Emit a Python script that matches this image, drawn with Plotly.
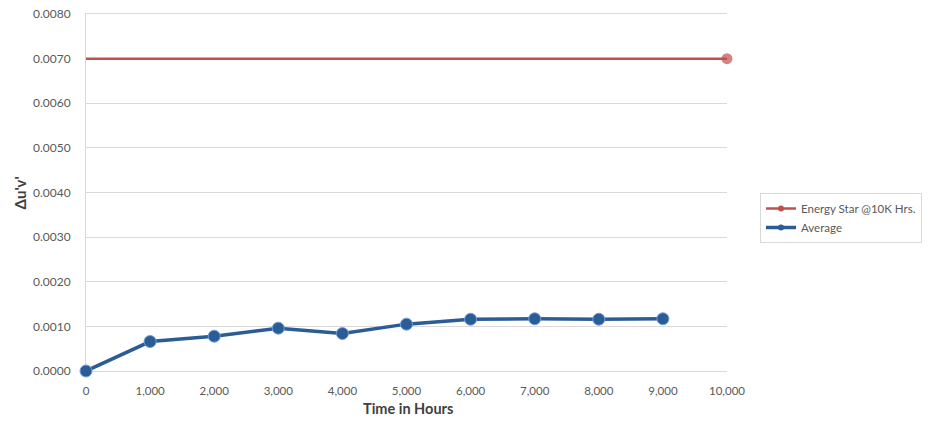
import plotly.graph_objects as go

hours = [0, 1000, 2000, 3000, 4000, 5000, 6000, 7000, 8000, 9000]
average = [0.0, 0.00066, 0.00078, 0.00096, 0.00084, 0.00105, 0.00116, 0.00117, 0.00116, 0.00117]
star_hours = [0, 10000]
star_values = [0.0070, 0.0070]
star_marker_sizes = [0, 11]
y_ticks = [0.0, 0.001, 0.002, 0.003, 0.004, 0.005, 0.006, 0.007, 0.008]

font = "Lato, 'Open Sans', sans-serif"
RED = "#C0504D"
BLUE = "#2B5C96"
GRID = "#D9D9D9"

fig = go.Figure()
fig.add_trace(go.Scatter(
    x=star_hours, y=star_values, name="Energy Star @10K Hrs.",
    mode="lines+markers", cliponaxis=False, showlegend=False,
    line=dict(color=RED, width=2.5),
    marker=dict(color=RED, size=star_marker_sizes, line=dict(width=0)),
))
fig.add_trace(go.Scatter(
    x=hours, y=average, name="Average",
    mode="lines+markers", cliponaxis=False, showlegend=False,
    line=dict(color=BLUE, width=3.5),
    marker=dict(color=BLUE, size=12, line=dict(color="#6F9FD8", width=1)),
))
# legend-only entries with small markers like the reference legend
fig.add_trace(go.Scatter(
    x=[None], y=[None], name="Energy Star @10K Hrs.", mode="lines+markers",
    line=dict(color=RED, width=2.5), marker=dict(color=RED, size=6),
))
fig.add_trace(go.Scatter(
    x=[None], y=[None], name="Average", mode="lines+markers",
    line=dict(color=BLUE, width=3.5), marker=dict(color=BLUE, size=6),
))
# empty trace so the top axis (used as the 0.0080 gridline) is drawn
fig.add_trace(go.Scatter(x=[None], y=[None], xaxis="x2", showlegend=False,
                         hoverinfo="skip"))

fig.update_layout(
    width=932, height=423,
    margin=dict(l=86, r=205, t=14, b=52, autoexpand=False),
    paper_bgcolor="white", plot_bgcolor="white",
    font=dict(family=font, size=11, color="#595959"),
    showlegend=True,
    legend=dict(
        x=1.0515, y=0.4986, xanchor="left", yanchor="top",
        bordercolor=GRID, borderwidth=1,
        font=dict(size=11.5, color="#595959"),
        bgcolor="white", tracegroupgap=2,
        itemwidth=30,
    ),
    xaxis=dict(
        range=[0, 10000], tickmode="linear", tick0=0, dtick=1000,
        tickformat=",", showgrid=False, zeroline=False,
        showline=True, linecolor=GRID, linewidth=1,
        ticks="", ticklabelstandoff=9, automargin=False,
        layer="below traces",
        tickfont=dict(size=11.5, color="#595959"),
    ),
    xaxis2=dict(
        overlaying="x", side="top", range=[0, 10000],
        showline=True, linecolor=GRID, linewidth=1,
        showticklabels=False, showgrid=False, zeroline=False, ticks="",
        automargin=False, layer="below traces",
    ),
    yaxis=dict(
        range=[0, 0.0080001], tickmode="array", tickvals=y_ticks,
        tickformat=".4f", showgrid=True, gridcolor=GRID, gridwidth=1,
        zeroline=False, showline=True, linecolor=GRID, linewidth=1,
        ticks="", ticklabelstandoff=12, automargin=False,
        ticklabeloverflow="allow",
        layer="below traces",
        tickfont=dict(size=12, color="#595959"),
    ),
    annotations=[
        dict(text="<b>Time in Hours</b>", xref="paper", yref="paper",
             x=0.502, y=-0.106, xanchor="center", yanchor="middle",
             showarrow=False, font=dict(size=14.5, color="#404040")),
        dict(text="<b>Δu'v'</b>", xref="paper", yref="paper",
             x=-0.103, y=0.5, xanchor="center", yanchor="middle", textangle=-90,
             showarrow=False, font=dict(size=15, color="#404040")),
    ],
)

fig.write_html("out.html", config={"displayModeBar": False},
               post_script="document.body.style.margin='0';")
